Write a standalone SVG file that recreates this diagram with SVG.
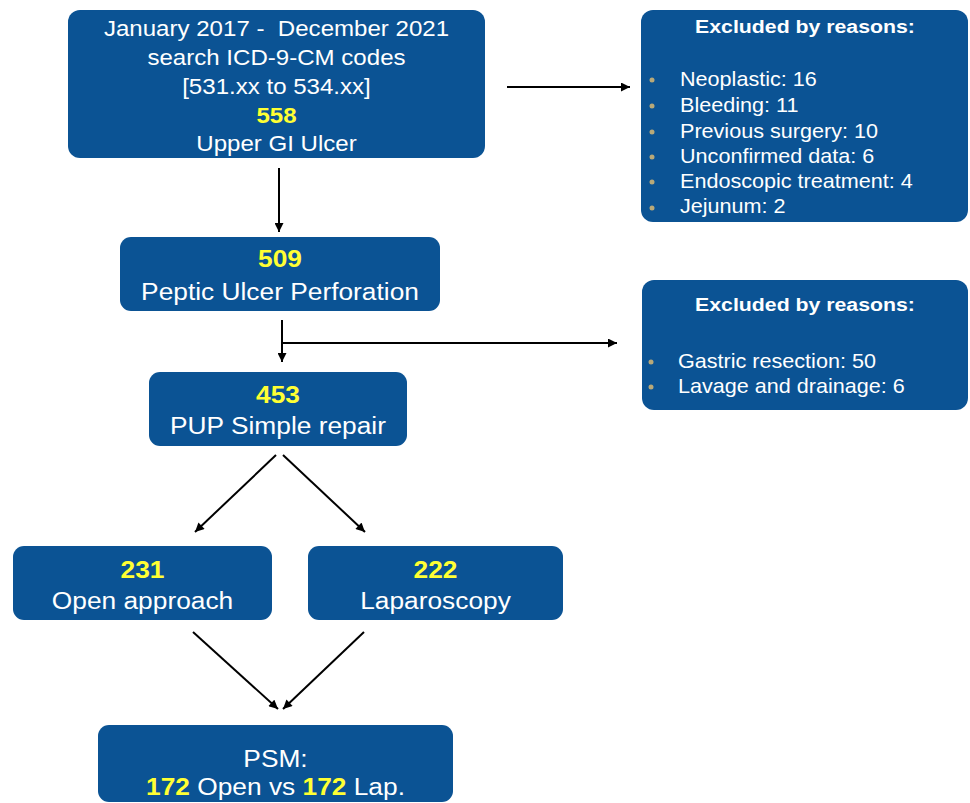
<svg xmlns="http://www.w3.org/2000/svg" width="970" height="803" viewBox="0 0 970 803">
<defs>
<marker id="ah" viewBox="0 0 10 10" refX="10" refY="5" markerWidth="10" markerHeight="9" markerUnits="userSpaceOnUse" orient="auto">
<path d="M0,0 L10,5 L0,10 z" fill="#000"/>
</marker>
<style>
.box{fill:#0b5394;}
.t{font-family:"Liberation Sans",Arial,sans-serif;fill:#fff;text-anchor:middle;}
.m{font-size:23.5px;}
.s{font-size:21.5px;}
.n{font-weight:bold;fill:#ffff33;}
.h{font-family:"Liberation Sans",Arial,sans-serif;fill:#fff;font-weight:bold;font-size:19px;text-anchor:middle;}
.b{font-family:"Liberation Sans",Arial,sans-serif;fill:#fff;font-size:20px;}
.dot{fill:#b8a979;}
.c{stroke:#000;stroke-width:2;fill:none;}
</style>
</defs>
<rect width="970" height="803" fill="#fff"/>

<g id="connectors">
<line class="c" x1="279" y1="168" x2="279" y2="232" marker-end="url(#ah)"/>
<line class="c" x1="507" y1="87" x2="630" y2="87" marker-end="url(#ah)"/>
<line class="c" x1="282" y1="320" x2="282" y2="362" marker-end="url(#ah)"/>
<line class="c" x1="282" y1="343" x2="617" y2="343" marker-end="url(#ah)"/>
<line class="c" x1="276" y1="455" x2="195" y2="532" marker-end="url(#ah)"/>
<line class="c" x1="283" y1="455" x2="365" y2="532" marker-end="url(#ah)"/>
<line class="c" x1="193" y1="632" x2="278" y2="709" marker-end="url(#ah)"/>
<line class="c" x1="364" y1="632" x2="283" y2="709" marker-end="url(#ah)"/>
</g>

<g id="search">
<rect class="box" x="68" y="10" width="417" height="148" rx="12"/>
<text class="t s" transform="translate(276.5,36) scale(1.12,1)">January 2017 - &#160;December 2021</text>
<text class="t s" transform="translate(276.5,65) scale(1.12,1)">search ICD-9-CM codes</text>
<text class="t s" transform="translate(276.5,94) scale(1.12,1)">[531.xx to 534.xx]</text>
<text class="t s n" transform="translate(276.5,123) scale(1.12,1)">558</text>
<text class="t s" transform="translate(276.5,151) scale(1.12,1)">Upper GI Ulcer</text>
</g>

<g id="excluded1">
<rect class="box" x="641" y="10" width="327" height="212" rx="12"/>
<text class="h" transform="translate(805,33) scale(1.12,1)">Excluded by reasons:</text>
<circle class="dot" cx="652" cy="80" r="2.5"/>
<circle class="dot" cx="652" cy="106" r="2.5"/>
<circle class="dot" cx="652" cy="132" r="2.5"/>
<circle class="dot" cx="652" cy="157" r="2.5"/>
<circle class="dot" cx="652" cy="182" r="2.5"/>
<circle class="dot" cx="652" cy="208" r="2.5"/>
<text class="b" transform="translate(680,86) scale(1.08,1)">Neoplastic: 16</text>
<text class="b" transform="translate(680,112) scale(1.08,1)">Bleeding: 11</text>
<text class="b" transform="translate(680,138) scale(1.08,1)">Previous surgery: 10</text>
<text class="b" transform="translate(680,163) scale(1.08,1)">Unconfirmed data: 6</text>
<text class="b" transform="translate(680,188) scale(1.08,1)">Endoscopic treatment: 4</text>
<text class="b" transform="translate(680,213) scale(1.08,1)">Jejunum: 2</text>
</g>

<g id="excluded2">
<rect class="box" x="642" y="280" width="326" height="130" rx="12"/>
<text class="h" transform="translate(805,311) scale(1.12,1)">Excluded by reasons:</text>
<circle class="dot" cx="651" cy="362" r="2.5"/>
<circle class="dot" cx="651" cy="387" r="2.5"/>
<text class="b" transform="translate(678,368) scale(1.08,1)">Gastric resection: 50</text>
<text class="b" transform="translate(678,393) scale(1.08,1)">Lavage and drainage: 6</text>
</g>

<g id="perforation">
<rect class="box" x="120" y="237" width="320" height="74" rx="11"/>
<text class="t m n" transform="translate(280,267) scale(1.12,1)">509</text>
<text class="t m" transform="translate(280,300) scale(1.12,1)">Peptic Ulcer Perforation</text>
</g>

<g id="simple-repair">
<rect class="box" x="149" y="372" width="258" height="74" rx="11"/>
<text class="t m n" transform="translate(278,403) scale(1.12,1)">453</text>
<text class="t m" transform="translate(278,434) scale(1.12,1)">PUP Simple repair</text>
</g>

<g id="open">
<rect class="box" x="13" y="546" width="259" height="74" rx="11"/>
<text class="t m n" transform="translate(142.5,578) scale(1.12,1)">231</text>
<text class="t m" transform="translate(142.5,609) scale(1.12,1)">Open approach</text>
</g>

<g id="laparoscopy">
<rect class="box" x="308" y="546" width="255" height="74" rx="11"/>
<text class="t m n" transform="translate(435.5,578) scale(1.12,1)">222</text>
<text class="t m" transform="translate(435.5,609) scale(1.12,1)">Laparoscopy</text>
</g>

<g id="psm">
<rect class="box" x="98" y="725" width="355" height="77" rx="11"/>
<text class="t m" transform="translate(275.5,767) scale(1.12,1)">PSM:</text>
<text class="t m" transform="translate(275.5,795) scale(1.12,1)"><tspan class="n">172</tspan> Open vs <tspan class="n">172</tspan> Lap.</text>
</g>
</svg>
